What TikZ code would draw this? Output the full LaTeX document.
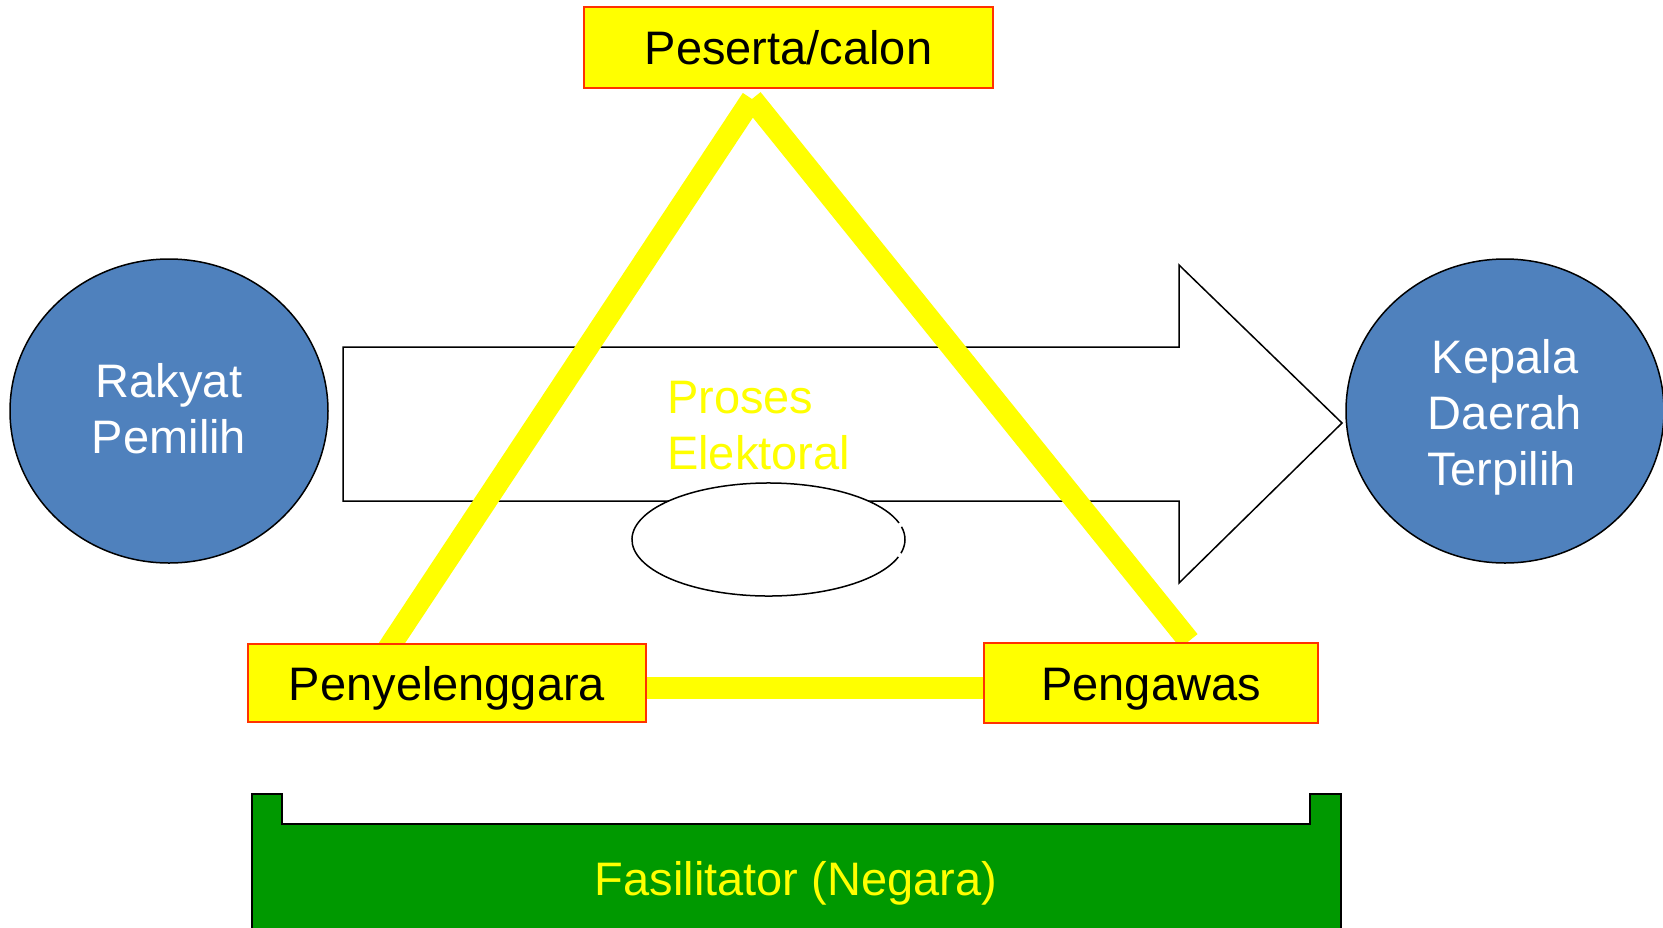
\documentclass[tikz,border=0pt]{standalone}
\usepackage{fontspec}
\setmainfont{Liberation Sans}
\usetikzlibrary{shapes.geometric,backgrounds}
\definecolor{boxyellow}{RGB}{255,255,0}
\definecolor{boxborder}{RGB}{255,51,0}
\definecolor{circblue}{RGB}{79,129,189}
\definecolor{floorgreen}{RGB}{0,153,0}
\begin{document}
\begin{tikzpicture}[x=1pt,y=-1pt,
  bigtext/.style={font=\fontsize{47}{56}\selectfont},
  ybox/.style={draw=boxborder, line width=2pt, fill=boxyellow, inner sep=0pt, bigtext, text=black, text height=34pt, text depth=0pt},
  bluecirc/.style={ellipse, draw=black, line width=1.5pt, fill=circblue, minimum width=318pt, minimum height=304pt, inner sep=0pt},
  circtext/.style={text=white, bigtext, inner sep=0pt, anchor=base},
  yline/.style={draw=boxyellow, line width=22pt, line cap=butt},
  outline/.style={draw=black, line width=1.5pt},
  ytext/.style={text=boxyellow, bigtext, inner sep=0pt}
]
\useasboundingbox (0,0) rectangle (1663,927);
\clip (0,0) rectangle (1663,927);

% circles
\node[bluecirc] (rakyat) at (169,411) {};
\node[circtext] (rakyattxt) at (169,397) {\begin{tabular}[t]{@{}c@{}}Rakyat\\Pemilih\end{tabular}};
\node[bluecirc] (kepala) at (1505,411) {};
\node[circtext] (kepalatxt) at (1505,373) {\begin{tabular}[t]{@{}c@{}}Kepala\\Daerah\\Terpilih\kern7pt\end{tabular}};

% boxes
\node[ybox, minimum width=409pt, minimum height=81pt] (peserta) at (788.5,47.5) {Peserta/calon};
\node[ybox, minimum width=398pt, minimum height=78pt] (penyel) at (447,683) {Penyelenggara};
\node[ybox, minimum width=334pt, minimum height=80pt] (pengawas) at (1151,683) {Pengawas};

\coordinate (apex) at (752,99);
\coordinate (leftfoot) at (386,652);
\coordinate (rightfoot) at (1189,641);

\begin{scope}[on background layer]
  \fill[white] (0,0) rectangle (1663,927);
  % block arrow
  \draw[outline, fill=white] (343,347) -- (1179,347) -- (1179,265) -- (1342,423)
        -- (1179,583) -- (1179,501) -- (343,501) -- cycle;
  % oval
  \node[ellipse, fill=white, minimum width=273pt, minimum height=113pt, inner sep=0pt] (oval) at (768.5,539.5) {};
  \draw[outline] ([shift={(-13:136.5 and 56.5)}]oval.center)
        arc[start angle=-13, end angle=14, x radius=136.5, y radius=56.5];
  \draw[outline] ([shift={(18:136.5 and 56.5)}]oval.center)
        arc[start angle=18, end angle=343, x radius=136.5, y radius=56.5];
  % triangle
  \draw[yline] (apex) -- (leftfoot);
  \draw[yline] (apex) -- (rightfoot);
  \draw[yline] ([yshift=-5pt]penyel.east) -- ([yshift=-5pt]pengawas.west);
\end{scope}

\node[ytext, anchor=base west] (proses) at (667,413) {\begin{tabular}[t]{@{}l@{}}Proses\\Elektoral\end{tabular}};

% facilitator base
\draw[outline, fill=floorgreen] (252,945) -- (252,794) -- (282,794) -- (282,824)
      -- (1310,824) -- (1310,794) -- (1341,794) -- (1341,945);
\node[ytext, anchor=base] (fasil) at (796,895) {Fasilitator (Negara)};
\end{tikzpicture}
\end{document}
